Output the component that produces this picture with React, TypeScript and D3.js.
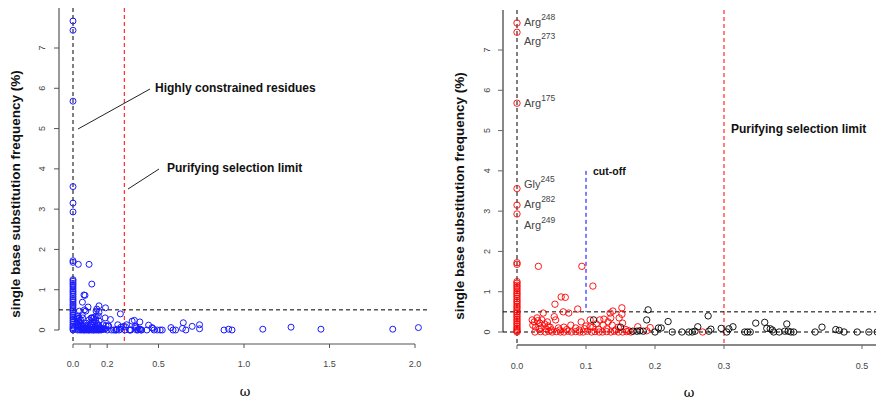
import React from "react";
import * as d3 from "d3";

// ---- data (ω, single base substitution frequency %) ----
// highlighted residues (ω = 0)
const hotLabels = ["Arg", "Arg", "Arg", "Gly", "Arg", "Arg"];
const hotNumbers = ["248", "273", "175", "245", "282", "249"];
const hotFreq = [7.67, 7.44, 5.68, 3.56, 3.15, 2.93];

// other residues with ω = 0
const zeroFreq = [1.72, 1.68, 1.25, 1.21, 1.16, 1.12, 1.07, 1.02, 0.97, 0.93, 0.88, 0.83, 0.78, 0.74, 0.69, 0.64, 0.6, 0.55, 0.5, 0.46, 0.41, 0.37, 0.32, 0.28, 0.23, 0.19, 0.14, 0.1, 0.06, 0.03, 0.0];

// red group (ω > 0)
const redOmega = [0.031, 0.094, 0.11, 0.064, 0.07, 0.055, 0.038, 0.067, 0.075, 0.088, 0.054, 0.056, 0.078, 0.093, 0.106, 0.022, 0.023, 0.029, 0.033, 0.032, 0.045, 0.106, 0.12, 0.126, 0.135, 0.139, 0.152, 0.152, 0.153, 0.148, 0.136, 0.125, 0.138, 0.11, 0.147, 0.175, 0.193, 0.188, 0.269,
  0.025, 0.027, 0.03, 0.035, 0.036, 0.04, 0.042, 0.044, 0.048, 0.05, 0.06, 0.062, 0.068, 0.072, 0.085, 0.09, 0.098, 0.1, 0.115, 0.118, 0.13, 0.132, 0.143, 0.158, 0.162,
  0.026, 0.034, 0.041, 0.046, 0.051, 0.057, 0.063, 0.068, 0.074, 0.079, 0.085, 0.091, 0.096, 0.102, 0.108, 0.113, 0.119, 0.124, 0.13, 0.136, 0.141, 0.147, 0.153, 0.159, 0.165];
const redFreq = [1.63, 1.63, 1.14, 0.87, 0.86, 0.69, 0.47, 0.5, 0.47, 0.57, 0.38, 0.3, 0.17, 0.25, 0.3, 0.3, 0.17, 0.35, 0.22, 0.07, 0.15, 0.13, 0.3, 0.32, 0.47, 0.52, 0.6, 0.44, 0.22, 0.35, 0.35, 0.17, 0.17, 0.12, 0.12, 0.13, 0.11, 0.03, 0.0,
  0.25, 0.12, 0.28, 0.1, 0.3, 0.2, 0.08, 0.25, 0.12, 0.05, 0.1, 0.05, 0.12, 0.06, 0.1, 0.05, 0.08, 0.15, 0.2, 0.07, 0.08, 0.25, 0.05, 0.06, 0.03,
  0.0, 0.01, 0.0, 0.02, 0.0, 0.01, 0.0, 0.0, 0.02, 0.0, 0.01, 0.0, 0.0, 0.02, 0.0, 0.01, 0.0, 0.0, 0.01, 0.0, 0.02, 0.0, 0.0, 0.01, 0.0];

// black group
const blackOmega = [0.111, 0.15, 0.19, 0.188, 0.219, 0.205, 0.209, 0.2, 0.168, 0.174, 0.178, 0.183, 0.225, 0.239, 0.249, 0.254, 0.258, 0.262, 0.277, 0.278, 0.281, 0.296, 0.304, 0.307, 0.313, 0.33, 0.334, 0.338, 0.346, 0.359, 0.362, 0.367, 0.37, 0.372, 0.38, 0.388, 0.391, 0.393, 0.397, 0.401, 0.432, 0.442, 0.462, 0.467, 0.474, 0.493, 0.51, 0.522,
  0.573, 0.585, 0.6, 0.645, 0.64, 0.66, 0.697, 0.74, 0.74, 0.883, 0.91, 0.93, 1.11, 1.275, 1.45, 1.87, 2.02];
const blackFreq = [0.3, 0.12, 0.55, 0.3, 0.26, 0.1, 0.1, 0.0, 0.02, 0.02, 0.03, 0.02, 0.0, 0.0, 0.0, 0.0, 0.02, 0.13, 0.4, 0.02, 0.07, 0.09, 0.0, 0.08, 0.13, 0.0, 0.0, 0.0, 0.22, 0.24, 0.09, 0.08, 0.05, 0.0, 0.0, 0.02, 0.2, 0.02, 0.0, 0.0, 0.0, 0.12, 0.06, 0.04, 0.0, 0.0, 0.0, 0.0,
  0.06, 0.0, 0.0, 0.18, 0.04, 0.0, 0.09, 0.13, 0.03, 0.0, 0.02, 0.0, 0.02, 0.07, 0.02, 0.02, 0.06];

const yTicks = [0, 1, 2, 3, 4, 5, 6, 7];
const leftXTicks = [0, 0.1, 0.2, 0.5, 1.0, 1.5, 2.0];
const leftXLabels = [0, 0.2, 0.5, 1.0, 1.5, 2.0];
const rightXTicks = [0, 0.1, 0.2, 0.3, 0.5];

const yLabel = "single base substitution frequency (%)";
const purifying = 0.3;
const cutoff = 0.1;
const cutoffTop = 4;
const hLine = 0.5;

type P = { w: number; f: number };
const zip = (a: number[], b: number[]): P[] => a.map((w, i) => ({ w, f: b[i] }));
const hotPts: P[] = hotFreq.map((f) => ({ w: 0, f }));
const zeroPts: P[] = zeroFreq.map((f) => ({ w: 0, f }));
const redPts = [...hotPts, ...zeroPts, ...zip(redOmega, redFreq)];
const blackPts = zip(blackOmega, blackFreq);
const allPts = [...redPts, ...blackPts];

const FONT = "Liberation Sans, Arial, Helvetica, sans-serif";
const hotDy = [3, 13, 4, -1, 3, 15];

export default function App() {
  // left panel scales
  const lx = d3.scaleLinear().domain([0, 2]).range([73, 415]);
  const ly = d3.scaleLinear().domain([0, 7]).range([330, 48]);
  // right panel scales
  const rx = d3.scaleLinear().domain([0, 0.52]).range([517, 875.8]);
  const ry = d3.scaleLinear().domain([0, 7]).range([332, 50]);

  const fmt = d3.format(".1f");

  return (
    <div style={{ position: "fixed", left: 0, top: 0 }}>
      <svg width={876} height={400} style={{ display: "block", background: "#fff" }} fontFamily={FONT}>
        {/* ================= LEFT PANEL ================= */}
        <g>
          <line x1={59} x2={59} y1={8} y2={ly(0)} stroke="#555" strokeWidth={1.2} />
          {yTicks.map((t) => (
            <g key={"ly" + t}>
              <line x1={54} x2={59} y1={ly(t)} y2={ly(t)} stroke="#555" />
              <text transform={`translate(45,${ly(t)}) rotate(-90)`} textAnchor="middle" fontSize={9} fill="#444">{t}</text>
            </g>
          ))}
          <line x1={lx(0)} x2={lx(2)} y1={344} y2={344} stroke="#555" strokeWidth={1.2} />
          {leftXTicks.map((t) => (
            <line key={"lxt" + t} x1={lx(t)} x2={lx(t)} y1={344} y2={348} stroke="#555" />
          ))}
          {leftXLabels.map((t) => (
            <text key={"lxl" + t} x={lx(t)} y={367} textAnchor="middle" fontSize={9} fill="#444">{fmt(t)}</text>
          ))}
          <text x={245} y={396} textAnchor="middle" fontSize={13} fontFamily="DejaVu Serif, serif">ω</text>
          <text transform={`translate(20,194) rotate(-90)`} textAnchor="middle" fontSize={13.5} fontWeight="bold" fill="#111">{yLabel}</text>

          <line x1={lx(0)} x2={lx(0)} y1={8} y2={344} stroke="#000" strokeDasharray="4,3" />
          <line x1={lx(purifying)} x2={lx(purifying)} y1={8} y2={344} stroke="#ff0000" strokeDasharray="4,3" />
          <line x1={59} x2={430} y1={ly(hLine)} y2={ly(hLine)} stroke="#000" strokeDasharray="4,3" />

          {allPts.map((p, i) => (
            <circle key={"lp" + i} cx={lx(p.w)} cy={ly(p.f)} r={3} fill="none" stroke="#1a1aff" strokeWidth={1} />
          ))}

          <line x1={78} y1={129} x2={150} y2={89} stroke="#222" />
          <text x={155} y={92} fontSize={12} fontWeight="bold" fill="#111">Highly constrained residues</text>
          <line x1={128} y1={189} x2={159} y2={169} stroke="#222" />
          <text x={167} y={172} fontSize={12} fontWeight="bold" fill="#111">Purifying selection limit</text>
        </g>

        {/* ================= RIGHT PANEL ================= */}
        <g>
          <line x1={503} x2={503} y1={10} y2={ry(0)} stroke="#888" strokeWidth={2} />
          {yTicks.map((t) => (
            <g key={"ry" + t}>
              <line x1={498} x2={503} y1={ry(t)} y2={ry(t)} stroke="#666" />
              <text transform={`translate(490,${ry(t)}) rotate(-90)`} textAnchor="middle" fontSize={9} fill="#444">{t}</text>
            </g>
          ))}
          <line x1={rx(0)} x2={876} y1={345} y2={345} stroke="#888" strokeWidth={2} />
          {rightXTicks.map((t) => (
            <g key={"rxt" + t}>
              <line x1={rx(t)} x2={rx(t)} y1={345} y2={349} stroke="#666" />
              <text x={rx(t)} y={369} textAnchor="middle" fontSize={9} fill="#444">{fmt(t)}</text>
            </g>
          ))}
          <text x={689} y={397} textAnchor="middle" fontSize={13} fontFamily="DejaVu Serif, serif">ω</text>
          <text transform={`translate(464,196) rotate(-90)`} textAnchor="middle" fontSize={13.5} fontWeight="bold" fill="#111">{yLabel}</text>

          <line x1={rx(0)} x2={rx(0)} y1={10} y2={345} stroke="#000" strokeDasharray="4,3" />
          <line x1={rx(purifying)} x2={rx(purifying)} y1={10} y2={345} stroke="#ff0000" strokeDasharray="4,3" />
          <line x1={rx(cutoff)} x2={rx(cutoff)} y1={ry(cutoffTop)} y2={ry(hLine)} stroke="#0000ff" strokeDasharray="4,3" />
          <line x1={503} x2={876} y1={ry(hLine)} y2={ry(hLine)} stroke="#000" strokeDasharray="4,3" />
          <line x1={503} x2={876} y1={ry(0)} y2={ry(0)} stroke="#000" strokeDasharray="4,3" />

          {redPts.map((p, i) => (
            <circle key={"rr" + i} cx={rx(p.w)} cy={ry(p.f)} r={3.2} fill="none" stroke="#ff0000" strokeWidth={0.9} />
          ))}
          {blackPts.map((p, i) => (
            <circle key={"rb" + i} cx={rx(p.w)} cy={ry(p.f)} r={3.2} fill="none" stroke="#000" strokeWidth={0.9} />
          ))}

          {hotFreq.map((f, i) => (
            <text key={"hl" + i} x={524} y={ry(f) + hotDy[i]} fontSize={11} fill="#444">
              {hotLabels[i]}
              <tspan fontSize={8.5} dy={-6}>{hotNumbers[i]}</tspan>
            </text>
          ))}

          <text x={593} y={175} fontSize={10.5} fontWeight="bold" fill="#111">cut-off</text>
          <text x={731} y={133} fontSize={12} fontWeight="bold" fill="#111">Purifying selection limit</text>
        </g>
      </svg>
    </div>
  );
}
